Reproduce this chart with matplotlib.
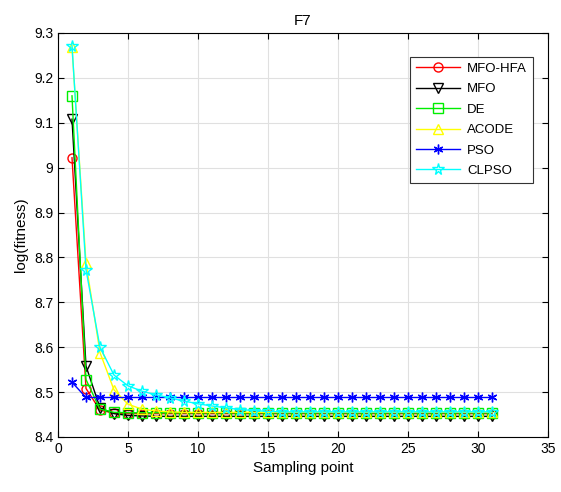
import matplotlib
matplotlib.use("Agg")
import matplotlib.pyplot as plt
import numpy as np

plt.rcParams['font.family'] = ['Liberation Sans', 'DejaVu Sans']

x = list(range(1, 32))
tail = 31 - 6

mfo_hfa = [9.022, 8.508, 8.460, 8.453, 8.452, 8.452] + [8.452] * tail
mfo = [9.108, 8.558, 8.465, 8.452, 8.448, 8.447] + [8.446] * tail
de = [9.160, 8.528, 8.462, 8.455, 8.454, 8.454] + [8.454] * tail
acode = [9.268, 8.788, 8.588, 8.505, 8.473, 8.462, 8.458, 8.456] + [8.455] * (31 - 8)
pso = [8.522] + [8.488] * 30
clpso = [9.272, 8.773, 8.600, 8.538, 8.514, 8.502, 8.494, 8.487, 8.480, 8.474,
         8.469, 8.465, 8.461, 8.459, 8.457] + [8.456] * (31 - 15)

series = [
    ("MFO-HFA", mfo_hfa, "red", "o"),
    ("MFO", mfo, "black", "v"),
    ("DE", de, "#00ee00", "s"),
    ("ACODE", acode, "yellow", "^"),
    ("PSO", pso, "blue", "*"),
    ("CLPSO", clpso, "cyan", "*"),
]

fig = plt.figure(figsize=(5.61, 4.92), dpi=100)
ax = fig.add_axes([58/561, 1 - 437/492, (548-58)/561, (437-33)/492])

for name, y, c, m in series:
    if name == "PSO":
        ax.plot(x, y, color=c, marker=(6, 2, 0), markersize=7, markerfacecolor='none',
                markeredgecolor=c, lw=1, label=name)
    elif name == "CLPSO":
        ax.plot(x, y, color=c, marker=m, markersize=8.5, markerfacecolor='none',
                markeredgecolor=c, lw=1, label=name)
    else:
        ax.plot(x, y, color=c, marker=m, markersize=6.5, markerfacecolor='none',
                markeredgecolor=c, lw=1, label=name)

ax.set_xlim(0, 35)
ax.set_ylim(8.4, 9.3)
ax.set_xticks(range(0, 36, 5))
ax.set_yticks(np.round(np.arange(8.4, 9.31, 0.1), 1))
ax.set_yticklabels(["8.4", "8.5", "8.6", "8.7", "8.8", "8.9", "9", "9.1", "9.2", "9.3"])
ax.grid(True, color="#e0e0e0", lw=0.8)
ax.set_axisbelow(True)
ax.tick_params(direction='in', top=True, right=True, labelsize=10, length=4)
for s in ax.spines.values():
    s.set_linewidth(0.8)
ax.set_xlabel("Sampling point", fontsize=11)
ax.set_ylabel("log(fitness)", fontsize=11)
ax.set_title("F7", fontsize=11, fontweight='normal')

leg = ax.legend(loc='upper right', bbox_to_anchor=(0.969, 0.941), fontsize=9.5,
                fancybox=False, edgecolor='#333333', framealpha=1,
                handlelength=3.4, handletextpad=0.5, borderpad=0.45,
                labelspacing=0.62, borderaxespad=0)
leg.get_frame().set_linewidth(0.8)

fig.savefig("out.png", dpi=100)
